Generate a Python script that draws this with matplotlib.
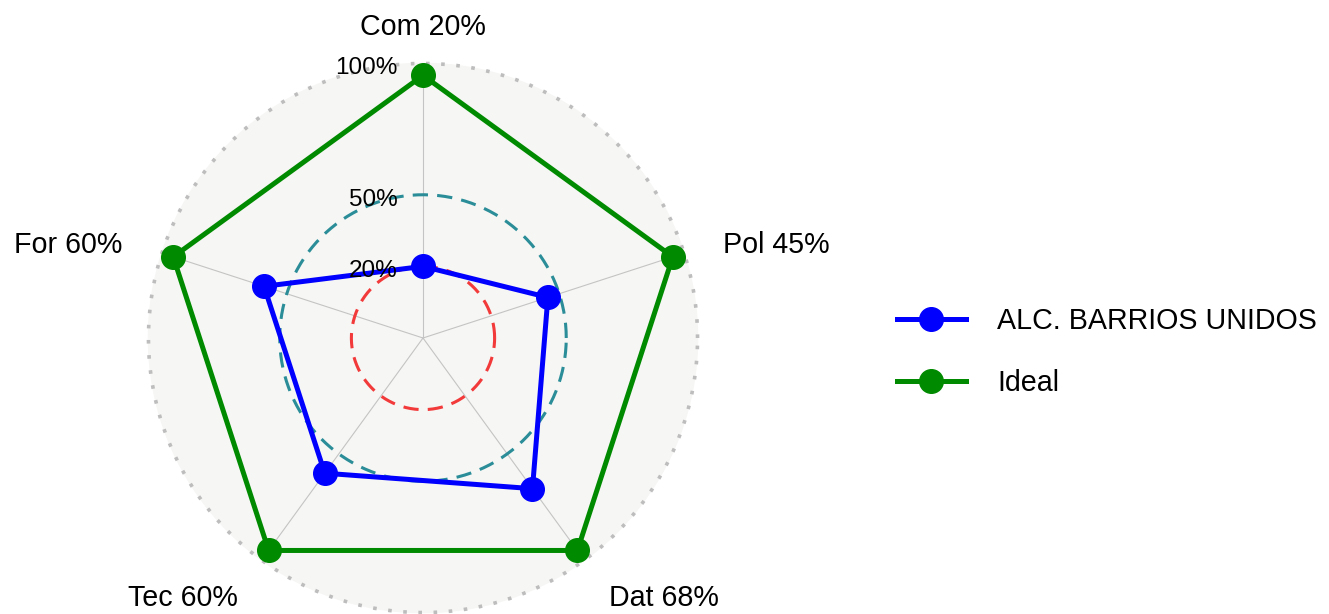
import numpy as np
import matplotlib.pyplot as plt
from matplotlib.lines import Line2D

plt.rcParams['font.family'] = ['Liberation Sans', 'DejaVu Sans']

# --------------------------------------------------
# data
# --------------------------------------------------
categories = ["Com", "Pol", "Dat", "Tec", "For"]
barrios = [0.20, 0.45, 0.68, 0.60, 0.60]
ideal = [1.0, 1.0, 1.0, 1.0, 1.0]
series_names = ["ALC. BARRIOS UNIDOS", "Ideal"]
series_colors = ["#0000FF", "#008A00"]

grid_values = [0.2, 0.5, 1.05]
grid_labels = ["20%", "50%", "100%"]
centre_y = -0.1

# --------------------------------------------------
# geometry helpers
# --------------------------------------------------
n = len(categories)
angles = np.pi / 2 - 2 * np.pi * np.arange(n) / n


def to_xy(values):
    r = np.asarray(values) - centre_y
    return r * np.cos(angles), r * np.sin(angles)


fig = plt.figure(figsize=(13.29, 6.14), dpi=100)
ax = fig.add_axes([0, 0, 1, 1])
k = 238.75  # px per unit
ax.set_xlim(-423 / k, (1329 - 423) / k)
ax.set_ylim(-276 / k, 338 / k)
ax.axis("off")
dy_text = -5 / k  # small downward nudge for text

t = np.linspace(0, 2 * np.pi, 400)

# background circle
r_bg = grid_values[-1] - centre_y
ax.fill(r_bg * np.cos(t), r_bg * np.sin(t), color="#F6F6F4", zorder=0)

# spokes
sx, sy = to_xy(ideal)
for x, y in zip(sx, sy):
    ax.plot([0, x], [0, y], color="#C4C4C4", lw=0.8, zorder=1)

# grid circles
grid_styles = [
    dict(color="#F23A3A", lw=2.2, linestyle=(0, (5, 3))),
    dict(color="#2A8D98", lw=2.2, linestyle=(0, (5, 3))),
    dict(color="#BDBDBD", lw=2.6, linestyle=(0, (1, 3.2))),
]
for gv, st in zip(grid_values, grid_styles):
    r = gv - centre_y
    ax.plot(r * np.cos(t), r * np.sin(t), zorder=2, **st)

for gv, gl in zip(grid_values, grid_labels):
    ax.text(-0.105, gv - centre_y + dy_text, gl, ha="right", va="center",
            fontsize=17.5, color="black", zorder=5)

# series
handles = []
for vals, name, col in zip([barrios, ideal], series_names, series_colors):
    x, y = to_xy(vals)
    ax.plot(np.append(x, x[0]), np.append(y, y[0]), color=col, lw=3.6,
            zorder=3, solid_joinstyle="miter")
    ax.plot(x, y, "o", color=col, markersize=17, zorder=4)
    handles.append(Line2D([0], [0], color=col, lw=3.6, marker="o",
                          markersize=17))

# axis labels
r_lab = 1.15 * (grid_values[-1] - centre_y)
for cat, v, a in zip(categories, barrios, angles):
    x, y = r_lab * np.cos(a), r_lab * np.sin(a)
    if abs(x) < 0.01:
        ha = "center"
    elif x > 0:
        ha = "left"
    else:
        ha = "right"
    ax.text(x, y + dy_text, f"{cat} {round(v * 100)}%", ha=ha, va="center",
            fontsize=20.6, color="black")

fig.legend(handles, series_names, loc="center left",
           bbox_to_anchor=(0.675, 0.427), frameon=False, fontsize=20.6,
           handlelength=2.4, handletextpad=1.1, labelspacing=1.2,
           borderpad=0, borderaxespad=0)

fig.savefig("out.png", dpi=100)
